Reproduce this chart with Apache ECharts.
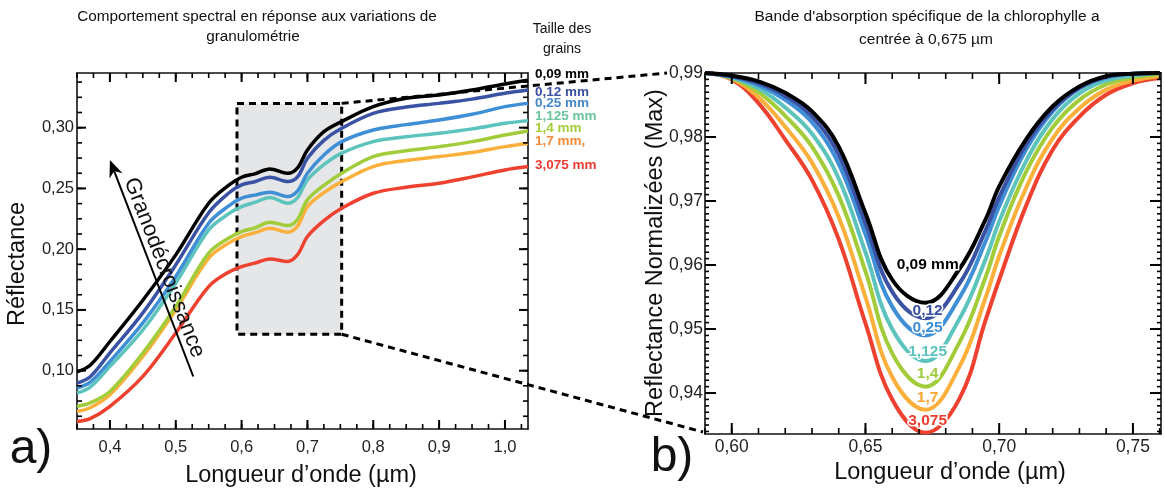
<!DOCTYPE html>
<html><head><meta charset="utf-8">
<script src="https://cdn.jsdelivr.net/npm/echarts@6/dist/echarts.min.js"></script>
<style>html,body{margin:0;padding:0;background:#fff}#c{width:1165px;height:490px}</style>
</head><body><div id="c"></div>
<script>
// ---------- DATA ----------
const grainLabels = ['0,09 mm', '0,12 mm', '0,25 mm', '1,125 mm', '1,4 mm', '1,7 mm,', '3,075 mm'];
const bandLabels  = ['0,09 mm', '0,12', '0,25', '1,125', '1,4', '1,7', '3,075'];

// Panel a) : wavelength (µm) and reflectance
const wlA = [0.35, 0.37, 0.40, 0.45, 0.50, 0.55, 0.58, 0.60, 0.62, 0.643, 0.67, 0.685, 0.70, 0.725, 0.752, 0.80, 0.85, 0.90, 0.95, 1.00, 1.035];
const reflA_009  = [0.099, 0.1045, 0.124, 0.158, 0.1953, 0.2378, 0.2525, 0.2592, 0.262, 0.266, 0.2625, 0.267, 0.2817, 0.2967, 0.305, 0.3173, 0.3242, 0.3269, 0.331, 0.336, 0.339];
const reflA_012  = [0.0898, 0.095, 0.1147, 0.1476, 0.1871, 0.230, 0.246, 0.2529, 0.2555, 0.2592, 0.2556, 0.2595, 0.2748, 0.2895, 0.2995, 0.3118, 0.317, 0.320, 0.3235, 0.3283, 0.331];
const reflA_025  = [0.0857, 0.0905, 0.1076, 0.1393, 0.1775, 0.2214, 0.2355, 0.242, 0.2445, 0.2469, 0.2433, 0.248, 0.2625, 0.2775, 0.2885, 0.2981, 0.3025, 0.3063, 0.311, 0.3173, 0.320];
const reflA_1125 = [0.0816, 0.0865, 0.1035, 0.1336, 0.172, 0.2159, 0.229, 0.235, 0.2385, 0.2425, 0.2378, 0.2425, 0.257, 0.2695, 0.279, 0.2885, 0.2925, 0.2954, 0.299, 0.3036, 0.3058];
const reflA_14   = [0.0706, 0.0735, 0.0829, 0.1145, 0.1528, 0.1967, 0.209, 0.2145, 0.2175, 0.2222, 0.2194, 0.2245, 0.2406, 0.2525, 0.2625, 0.2762, 0.281, 0.2844, 0.2885, 0.294, 0.2973];
const reflA_17   = [0.0665, 0.0695, 0.0802, 0.1117, 0.150, 0.1926, 0.205, 0.2104, 0.2135, 0.2173, 0.214, 0.219, 0.235, 0.2465, 0.2556, 0.268, 0.273, 0.2762, 0.2795, 0.2844, 0.2872];
const reflA_3075 = [0.0582, 0.0605, 0.0706, 0.0953, 0.131, 0.1692, 0.181, 0.1857, 0.1885, 0.192, 0.1898, 0.1955, 0.2104, 0.2235, 0.2337, 0.246, 0.251, 0.2543, 0.2595, 0.2652, 0.268];

// Panel b) : normalised reflectance around the 0,675 µm band
const wlB = [0.59, 0.60, 0.61, 0.62, 0.63, 0.64, 0.65, 0.66, 0.6725, 0.685, 0.695, 0.70, 0.71, 0.72, 0.73, 0.74, 0.75, 0.76];
const normB_009  = [0.99, 0.9896, 0.9887, 0.9869, 0.984, 0.9785, 0.9681, 0.9577, 0.9541, 0.9593, 0.9672, 0.9723, 0.9796, 0.9848, 0.9879, 0.9895, 0.9899, 0.99];
const normB_012  = [0.99, 0.9895, 0.9884, 0.9864, 0.9832, 0.9772, 0.9665, 0.9558, 0.9517, 0.9570, 0.9655, 0.9706, 0.9788, 0.9843, 0.9877, 0.9894, 0.9899, 0.99];
const normB_025  = [0.99, 0.9894, 0.9881, 0.9858, 0.9823, 0.9758, 0.9648, 0.9535, 0.9490, 0.9548, 0.9638, 0.9692, 0.9780, 0.9840, 0.9876, 0.9893, 0.9899, 0.99];
const normB_1125 = [0.99, 0.9893, 0.9876, 0.9846, 0.9805, 0.9735, 0.9620, 0.9500, 0.9450, 0.9515, 0.9610, 0.9668, 0.9762, 0.9828, 0.9868, 0.9888, 0.9896, 0.99];
const normB_14   = [0.99, 0.9892, 0.9870, 0.9833, 0.9785, 0.9708, 0.9590, 0.9462, 0.9410, 0.9478, 0.9582, 0.9645, 0.9745, 0.9815, 0.9858, 0.9882, 0.9893, 0.9898];
const normB_17   = [0.99, 0.9891, 0.9862, 0.9816, 0.9760, 0.9675, 0.9550, 0.9425, 0.9374, 0.9440, 0.9550, 0.9614, 0.9720, 0.9798, 0.9845, 0.9874, 0.9888, 0.9895];
const normB_3075 = [0.99, 0.9890, 0.9853, 0.9796, 0.9733, 0.9640, 0.9509, 0.9390, 0.9338, 0.9390, 0.9515, 0.9577, 0.9692, 0.9780, 0.9832, 0.9866, 0.9884, 0.9892];

// Tick labels
const xTicksA = [0.4, 0.5, 0.6, 0.7, 0.8, 0.9, 1.0];
const yTicksA = [0.10, 0.15, 0.20, 0.25, 0.30];
const xTicksB = [0.60, 0.65, 0.70, 0.75];
const yTicksB = [0.94, 0.95, 0.96, 0.97, 0.98, 0.99];

// Zoomed window drawn on panel a)
const zoomWl = [0.593, 0.752];
const zoomRefl = [0.130, 0.320];
// Granodécroissance arrow (tail, head) in panel a) units
const arrowTail = [0.5266, 0.0952];
const arrowHead = [0.400, 0.2734];

// ---------- STYLE ----------
const seriesA = [reflA_009, reflA_012, reflA_025, reflA_1125, reflA_14, reflA_17, reflA_3075];
const seriesB = [normB_009, normB_012, normB_025, normB_1125, normB_14, normB_17, normB_3075];
const lineColors  = ['#000000', '#3a52a3', '#3f8fd6', '#5cc4bd', '#a3cc3a', '#fbb03b', '#ee4130'];
const labelColorsA = ['#000000', '#3b50a2', '#4587cb', '#68c59c', '#a5cd3a', '#f48a3a', '#ee3b32'];
const labelColorsB = ['#000000', '#3b50a2', '#3f8fd6', '#5cc4bd', '#9dcb3c', '#f9a533', '#ee3b32'];
const legendY = [74, 92, 103, 116, 128, 141, 165];
const bandLabelDy = [-38, -7, -8, -9, -13, -12, -12];
const FONT = '"Liberation Sans", Arial, Helvetica, sans-serif';

const rangeA = {x: [0.35, 1.035], y: [0.052, 0.345]};
const rangeB = {x: [0.59, 0.7605], y: [0.9336, 0.99]};

function steps(a, b, s) { const out = []; for (let v = a; v <= b + 1e-9; v += s) out.push(+v.toFixed(5)); return out; }
const xMinorA = steps(0.35, 1.035, 0.025);
const yMinorA = steps(0.0625, 0.345, 0.0125);
const xMinorB = steps(0.59, 0.76, 0.01);
const yMinorB = steps(0.934, 0.99, 0.001);

function frameAxes(dim, gridIndex, range, majors, dec, margin, fs) {
  const sides = dim === 'x' ? ['bottom', 'top'] : ['left', 'right'];
  return sides.map((pos, i) => ({
    gridIndex, type: 'value', min: range[0], max: range[1], position: pos,
    splitLine: {show: false},
    axisLine: {show: true, onZero: false, lineStyle: {color: '#111', width: 1.6}},
    axisTick: {show: false},
    axisLabel: {show: i === 0, customValues: majors, margin: margin, fontSize: fs, color: '#222', fontFamily: FONT,
      formatter: v => Number(v).toFixed(dec).replace('.', ',')}
  }));
}

const xAxes = [].concat(
  frameAxes('x', 0, rangeA.x, xTicksA, 1, 10, 16.5),
  frameAxes('x', 1, rangeB.x, xTicksB, 2, 4, 17.5)
);
const yAxes = [].concat(
  frameAxes('y', 0, rangeA.y, yTicksA, 2, 3, 16.5),
  frameAxes('y', 1, rangeB.y, yTicksB, 2, 2, 17.5)
);

const series = [];
seriesA.forEach((vals, i) => {
  const s = {
    type: 'line', name: grainLabels[i], xAxisIndex: 0, yAxisIndex: 0,
    data: wlA.map((w, k) => [w, vals[k]]),
    showSymbol: false, smooth: 0.35, z: 3 + (6 - i),
    lineStyle: {color: lineColors[i], width: 3.5}, itemStyle: {color: lineColors[i]}
  };
  if (i === 0) {
    s.markArea = {
      silent: true, z: 1,
      itemStyle: {color: '#e5e6e8', borderColor: '#000', borderWidth: 3, borderType: [7, 5]},
      data: [[{coord: [zoomWl[0], zoomRefl[1]]}, {coord: [zoomWl[1], zoomRefl[0]]}]]
    };
  }
  series.push(s);
});
seriesB.forEach((vals, i) => {
  series.push({
    type: 'line', name: bandLabels[i], xAxisIndex: 2, yAxisIndex: 2,
    data: wlB.map((w, k) => [w, vals[k]]),
    showSymbol: false, smooth: 0.4, z: 3 + (6 - i),
    lineStyle: {color: lineColors[i], width: 4}, itemStyle: {color: lineColors[i]}
  });
});

const chart = echarts.init(document.getElementById('c'), null, {renderer: 'canvas'});
chart.setOption({
  animation: false,
  backgroundColor: '#fff',
  grid: [
    {left: 77, top: 73, width: 451, height: 356},
    {left: 705, top: 73, width: 456, height: 361}
  ],
  xAxis: xAxes,
  yAxis: yAxes,
  series: series
});

// ---------- ANNOTATIONS ----------
const pA = (x, y) => chart.convertToPixel({seriesIndex: 0}, [x, y]);
const pB = (x, y) => chart.convertToPixel({seriesIndex: 7}, [x, y]);
const g = [];
function txt(text, x, y, size, opts) {
  opts = opts || {};
  const st = {text: text, x: 0, y: 0, fill: opts.color || '#111', font: (opts.weight || 'normal') + ' ' + size + 'px ' + FONT,
    align: opts.align || 'center', verticalAlign: 'middle', textAlign: opts.align || 'center', textVerticalAlign: 'middle'};
  if (opts.stroke) { st.stroke = opts.stroke; st.lineWidth = 3; }
  return {type: 'text', x: x, y: y, rotation: opts.rotation || 0, z: 100, style: st};
}
// axis ticks (inside, on all four sides), placed through the chart's own scales
function frameTicks(pFn, range, xMaj, xMin, yMaj, yMin, xMajLen, xMinLen, yMajLen, yMinLen) {
  const bl = pFn(range.x[0], range.y[0]);
  const tr = pFn(range.x[1], range.y[1]);
  const left = bl[0], bottom = bl[1], right = tr[0], top = tr[1];
  const seg = (x1, y1, x2, y2, w) => g.push({type: 'line', z: 40, silent: true, shape: {x1, y1, x2, y2}, style: {stroke: '#000', lineWidth: w}});
  [[xMaj, xMajLen, 2], [xMin, xMinLen, 1.6]].forEach(([arr, len, w]) => arr.forEach(v => {
    const x = pFn(v, range.y[0])[0];
    seg(x, bottom, x, bottom - len, w);
    seg(x, top, x, top + len, w);
  }));
  [[yMaj, yMajLen, 2], [yMin, yMinLen, 1.6]].forEach(([arr, len, w]) => arr.forEach(v => {
    const y = pFn(range.x[0], v)[1];
    seg(left, y, left + len, y, w);
    seg(right, y, right - len, y, w);
  }));
}
frameTicks(pA, rangeA, xTicksA, xMinorA, yTicksA, yMinorA, 9, 5, 9, 5);
frameTicks(pB, rangeB, xTicksB, xMinorB, yTicksB, yMinorB, 11, 6, 11, 4);

// titles
g.push(txt('Comportement spectral en réponse aux variations de', 257, 17, 15.3));
g.push(txt('granulométrie', 253, 37, 15.3));
g.push(txt('Taille des', 562, 29, 14));
g.push(txt('grains', 562, 49, 14));
g.push(txt("Bande d'absorption spécifique de la chlorophylle a", 927, 17, 15.5));
g.push(txt('centrée à 0,675 µm', 926, 40, 15.5));
// axis names
g.push(txt('Réflectance', 18, 264, 23.5, {rotation: Math.PI / 2}));
g.push(txt('Longueur d’onde (µm)', 301, 476, 23.5));
g.push(txt('Reflectance Normalizées (Max)', 656, 253, 23.5, {rotation: Math.PI / 2}));
g.push(txt('Longueur d’onde (µm)', 950, 473, 23.5));
g.push(txt('a)', 31, 450, 48));
g.push(txt('b)', 672, 458, 48));
// legend labels panel a)
grainLabels.forEach((s, i) => g.push(txt(s, 535, legendY[i], 13.5, {align: 'left', color: labelColorsA[i], weight: 'bold'})));
// band labels panel b)
seriesB.forEach((vals, i) => {
  const mn = Math.min.apply(null, vals);
  const p = pB(0.6725, mn);
  g.push(txt(bandLabels[i], p[0] + 2, p[1] + bandLabelDy[i], 15.5, {color: labelColorsB[i], weight: 'bold', stroke: '#fff'}));
});
// connector dashed lines
const cTop = pA(zoomWl[1], zoomRefl[1]);
const cBot = pA(zoomWl[1], zoomRefl[0]);
const bTop = pB(rangeB.x[0], rangeB.y[1]);
const bBot = pB(rangeB.x[0], rangeB.y[0]);
g.push({type: 'line', z: 50, shape: {x1: cTop[0], y1: cTop[1], x2: bTop[0] - 38, y2: bTop[1]}, style: {stroke: '#000', lineWidth: 3, lineDash: [7, 5]}});
g.push({type: 'line', z: 50, shape: {x1: cBot[0], y1: cBot[1], x2: bBot[0] - 2, y2: bBot[1] - 2}, style: {stroke: '#000', lineWidth: 3, lineDash: [7, 5]}});
// arrow
const at = pA(arrowTail[0], arrowTail[1]);
const ah = pA(arrowHead[0], arrowHead[1]);
const adx = ah[0] - at[0], ady = ah[1] - at[1];
const aL = Math.hypot(adx, ady);
const u = [adx / aL, ady / aL];
const nrm = [-u[1], u[0]];
const hl = 17, hw = 7;
const base = [ah[0] - u[0] * hl, ah[1] - u[1] * hl];
const notch = [ah[0] - u[0] * hl * 0.7, ah[1] - u[1] * hl * 0.7];
g.push({type: 'line', z: 60, shape: {x1: at[0], y1: at[1], x2: notch[0], y2: notch[1]}, style: {stroke: '#000', lineWidth: 2}});
g.push({type: 'polygon', z: 60, shape: {points: [ah, [base[0] + nrm[0] * hw, base[1] + nrm[1] * hw], notch, [base[0] - nrm[0] * hw, base[1] - nrm[1] * hw]]}, style: {fill: '#000'}});
const mid = [(at[0] + ah[0]) / 2, (at[1] + ah[1]) / 2];
const rd = [-u[0], -u[1]];
g.push(txt('Granodécroissance', mid[0] + nrm[0] * 12 + rd[0] * 4, mid[1] + nrm[1] * 12 + rd[1] * 4, 22, {rotation: -Math.atan2(rd[1], rd[0])}));

chart.setOption({graphic: {elements: g}});
</script>
</body></html>
